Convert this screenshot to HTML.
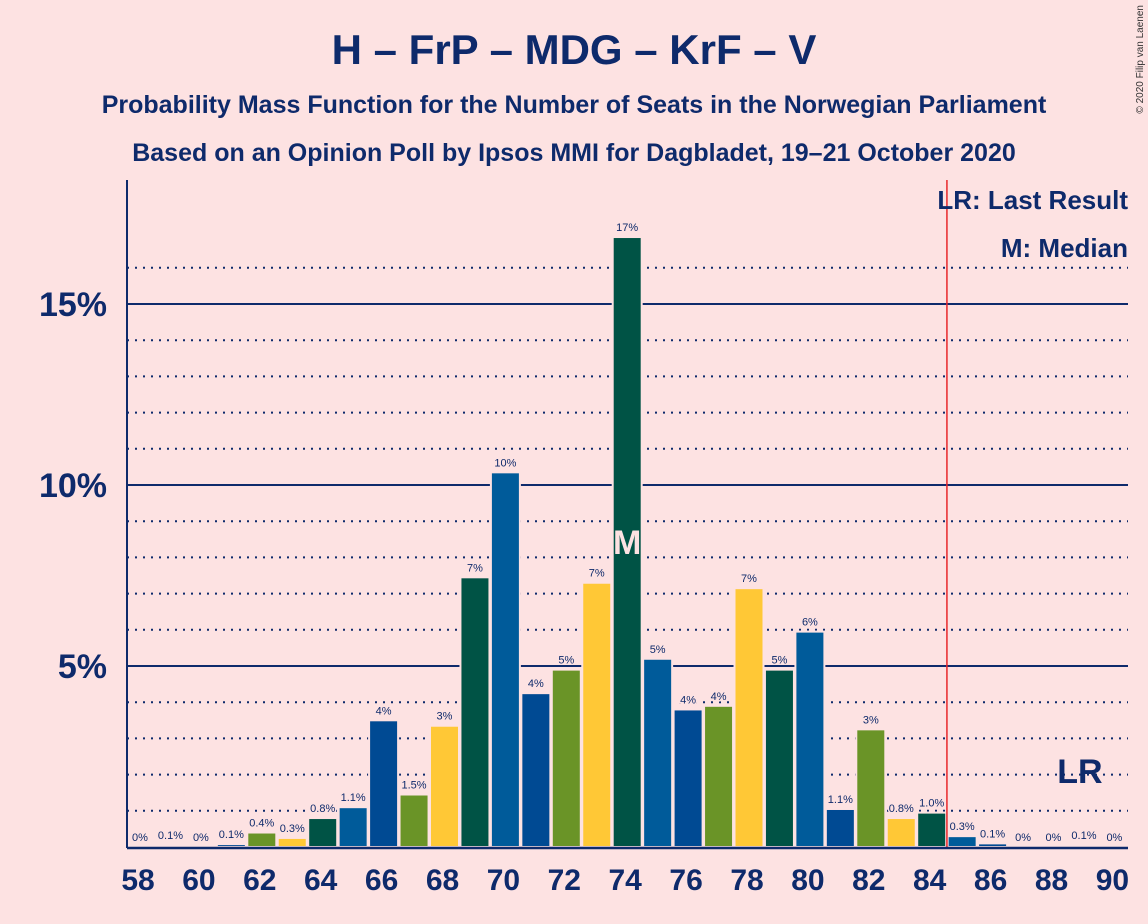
<!DOCTYPE html>
<html><head><meta charset="utf-8"><style>
body{margin:0;background:#fde2e2;}
svg{display:block;font-family:"Liberation Sans",sans-serif;}
</style></head><body>
<svg id="chart" width="1148" height="924">
<rect width="1148" height="924" fill="#fde2e2"/>
<text x="574" y="64" text-anchor="middle" font-size="42" font-weight="bold" fill="#0e2a6b">H – FrP – MDG – KrF – V</text>
<text x="574" y="113" text-anchor="middle" font-size="25" font-weight="bold" fill="#0e2a6b">Probability Mass Function for the Number of Seats in the Norwegian Parliament</text>
<text x="574" y="161" text-anchor="middle" font-size="25" font-weight="bold" fill="#0e2a6b">Based on an Opinion Poll by Ipsos MMI for Dagbladet, 19–21 October 2020</text>
<text x="1143" y="5" transform="rotate(-90 1143 5)" text-anchor="end" font-size="10" fill="#333">© 2020 Filip van Laenen</text>
<g id="grid"></g><g id="bars"></g><g id="labels"></g><g id="axes"></g>
<text x="1128" y="209" text-anchor="end" font-size="26" font-weight="bold" fill="#0e2a6b">LR: Last Result</text>
<text x="1128" y="257" text-anchor="end" font-size="26" font-weight="bold" fill="#0e2a6b">M: Median</text>
</svg>
<script>
const seats=[58,59,60,61,62,63,64,65,66,67,68,69,70,71,72,73,74,75,76,77,78,79,80,81,82,83,84,85,86,87,88,89,90];
const probs=[0,0.05,0,0.08,0.4,0.25,0.8,1.1,3.5,1.45,3.35,7.45,10.35,4.25,4.9,7.3,16.85,5.2,3.8,3.9,7.15,4.9,5.95,1.05,3.25,0.8,0.95,0.3,0.1,0,0,0.05,0];
const valueLabels=["0%","0.1%","0%","0.1%","0.4%","0.3%","0.8%","1.1%","4%","1.5%","3%","7%","10%","4%","5%","7%","17%","5%","4%","4%","7%","5%","6%","1.1%","3%","0.8%","1.0%","0.3%","0.1%","0%","0%","0.1%","0%"];
const yTicks=[5,10,15];
const yTickLabels=["5%","10%","15%"];
const medianSeat=74, lastResult=89;
const NS="http://www.w3.org/2000/svg";
const x0=140,step=30.45,base=847,ppu=36.2,left=127,right=1128;
const X=s=>x0+(s-58)*step, Y=v=>base-v*ppu;
const colors=["#005b9a","#004a93","#6a9427","#ffc836","#005345"];
function mk(t,a,p,txt){const e=document.createElementNS(NS,t);for(const k in a)e.setAttribute(k,a[k]);if(txt!==undefined)e.textContent=txt;document.getElementById(p).appendChild(e);return e;}
for(let v=1;v<=16;v++){
 const solid=yTicks.includes(v);
 const l=mk('line',{x1:left,x2:right,y1:Y(v),y2:Y(v),stroke:'#0e2a6b','stroke-width':2,'stroke-dasharray':solid?'':'2,6'},'grid');
 
 
}
yTicks.forEach((v,i)=>{const t=mk('text',{x:107,y:Y(v)+12,'text-anchor':'end','font-size':34,'font-weight':'bold',fill:'#0e2a6b'},'axes',yTickLabels[i]);
 });
seats.forEach((s,i)=>{
 const v=probs[i],cx=X(s);
 if(v>0){const r=mk('rect',{x:cx-14.5,y:Y(v),width:29,height:v*ppu,fill:colors[s%5],stroke:'#fde2e2','stroke-width':2},'bars');
  }
 const t=mk('text',{x:cx,y:Y(v)-6,'text-anchor':'middle','font-size':11,fill:'#0e2a6b',stroke:'#fde2e2','stroke-width':3,'paint-order':'stroke'},'labels',valueLabels[i]);
 
 if(s%2===0){const xt=mk('text',{x:cx-2,y:890,'text-anchor':'middle','font-size':30,'font-weight':'bold',fill:'#0e2a6b'},'axes',String(s));
  }
});
const mi=seats.indexOf(medianSeat);
const m=mk('text',{x:X(medianSeat),y:Y(probs[mi]/2)+12,'text-anchor':'middle','font-size':34,'font-weight':'bold',fill:'#fde2e2'},'labels','M');

const lr=mk('line',{x1:X(84.5),x2:X(84.5),y1:180,y2:base,stroke:'#e8282b','stroke-width':1.5},'axes');

const lt=mk('text',{x:X(lastResult)-4,y:783,'text-anchor':'middle','font-size':34,'font-weight':'bold',fill:'#0e2a6b'},'labels','LR');

const ya=mk('line',{x1:left,x2:left,y1:180,y2:base+1,stroke:'#0e2a6b','stroke-width':2},'axes');

const xa=mk('line',{x1:left,x2:right,y1:base+1,y2:base+1,stroke:'#0e2a6b','stroke-width':2.5},'axes');

</script>
</body></html>
